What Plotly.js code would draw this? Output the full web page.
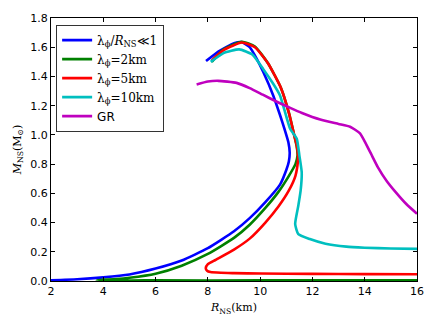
<!DOCTYPE html>
<html><head><meta charset="utf-8">
<script src="https://cdn.plot.ly/plotly-3.0.1.min.js"></script>
<style>html,body{margin:0;padding:0;background:#fff}#g{width:436px;height:329px}</style>
</head><body><div id="g"></div>
<script>
// Mass-radius curves
const blueR = [7.93,8.4,9.0,9.3,9.6,9.87,10.12,10.5,10.76,10.95,11.08,11.13,11.1,11.0,10.76,10.2,9.6,9.0,8.0,7.0,6.0,5.0,4.0,3.0,2.0];
const blueM = [1.505,1.57,1.628,1.635,1.60,1.52,1.43,1.27,1.136,1.03,0.95,0.88,0.82,0.76,0.66,0.54,0.43,0.34,0.225,0.14,0.085,0.045,0.025,0.012,0.005];
const greenR = [8.15,8.6,9.3,9.8,10.3,10.8,11.1,11.3,11.4,11.43,11.35,11.1,10.7,10.2,9.6,9.0,8.0,7.0,6.0,5.0,4.5,3.75,6,10,16];
const greenM = [1.50,1.585,1.637,1.605,1.49,1.32,1.15,1.0,0.92,0.86,0.80,0.72,0.61,0.50,0.385,0.295,0.185,0.105,0.05,0.022,0.013,0.005,0.004,0.004,0.004];
const redR = [8.15,8.6,9.3,9.8,10.3,10.8,11.1,11.3,11.4,11.45,11.45,11.35,11.1,10.7,10.2,9.6,9.0,8.3,8.0,7.92,7.97,8.1,8.5,9.0,10,12,14,16];
const redM = [1.51,1.58,1.632,1.60,1.49,1.32,1.15,1.0,0.928,0.86,0.83,0.72,0.62,0.51,0.40,0.29,0.215,0.145,0.115,0.088,0.07,0.061,0.056,0.054,0.051,0.049,0.047,0.046];
const cyanR = [8.11,8.6,9.2,9.7,10.12,10.5,10.76,11.15,11.4,11.5,11.59,11.55,11.46,11.34,11.46,11.9,12.5,13.3,14,15,16];
const cyanM = [1.50,1.56,1.585,1.55,1.45,1.35,1.27,1.04,0.974,0.86,0.745,0.62,0.515,0.39,0.32,0.287,0.255,0.235,0.228,0.222,0.22];
const grR = [7.57,8.0,8.4,9.1,9.6,10.1,10.6,11.15,11.6,12.3,13.0,13.44,13.82,14.2,14.5,14.84,15.2,15.6,16.0];
const grM = [1.345,1.365,1.37,1.356,1.32,1.275,1.23,1.185,1.15,1.105,1.075,1.056,1.01,0.885,0.78,0.685,0.605,0.525,0.46];

const names = [
  '<span style="font-family:DejaVu Serif">λ<sub>ϕ</sub>/<i>R</i><sub>NS</sub>≪1</span>',
  '<span style="font-family:DejaVu Serif">λ<sub>ϕ</sub>=2km</span>',
  '<span style="font-family:DejaVu Serif">λ<sub>ϕ</sub>=5km</span>',
  '<span style="font-family:DejaVu Serif">λ<sub>ϕ</sub>=10km</span>',
  'GR'
];
const colors = ['#0000ff','#008000','#ff0000','#00bfbf','#bf00bf'];
const xs = [blueR, greenR, redR, cyanR, grR];
const ys = [blueM, greenM, redM, cyanM, grM];

const data = xs.map((x,i)=>({
  x: x, y: ys[i], type:'scatter', mode:'lines', name: names[i],
  line:{color:colors[i], width:2.6, shape:'spline', smoothing:0.5}
}));

const ax = {
  showgrid:false, zeroline:false, showline:true, mirror:'ticks',
  linecolor:'#000', linewidth:1, ticks:'inside', ticklen:4, tickcolor:'#000',
  tickfont:{family:'DejaVu Sans', size:11, color:'#000'}
};
const layout = {
  width:436, height:329,
  margin:{l:51, r:19, t:18, b:48},
  paper_bgcolor:'#fff', plot_bgcolor:'#fff',
  showlegend:true,
  legend:{x:0.014, y:0.975, xanchor:'left', yanchor:'top', bgcolor:'#fff',
    bordercolor:'#333', borderwidth:1, font:{family:'DejaVu Sans', size:12, color:'#000'},
    itemwidth:30, tracegroupgap:0},
  xaxis:Object.assign({}, ax, {range:[2,16], tickvals:[2,4,6,8,10,12,14,16],
    title:{text:'<span style="font-family:DejaVu Serif"><i>R</i><sub>NS</sub>(km)</span>', font:{size:11,color:'#000'}, standoff:6}}),
  yaxis:Object.assign({}, ax, {range:[0,1.8], tickvals:[0,0.2,0.4,0.6,0.8,1.0,1.2,1.4,1.6,1.8], tickformat:'.1f',
    title:{text:'<span style="font-family:DejaVu Serif"><i>M</i><sub>NS</sub>(M<sub>⊙</sub>)</span>', font:{size:11,color:'#000'}, standoff:6}})
};
Plotly.newPlot('g', data, layout, {staticPlot:true});
</script></body></html>
